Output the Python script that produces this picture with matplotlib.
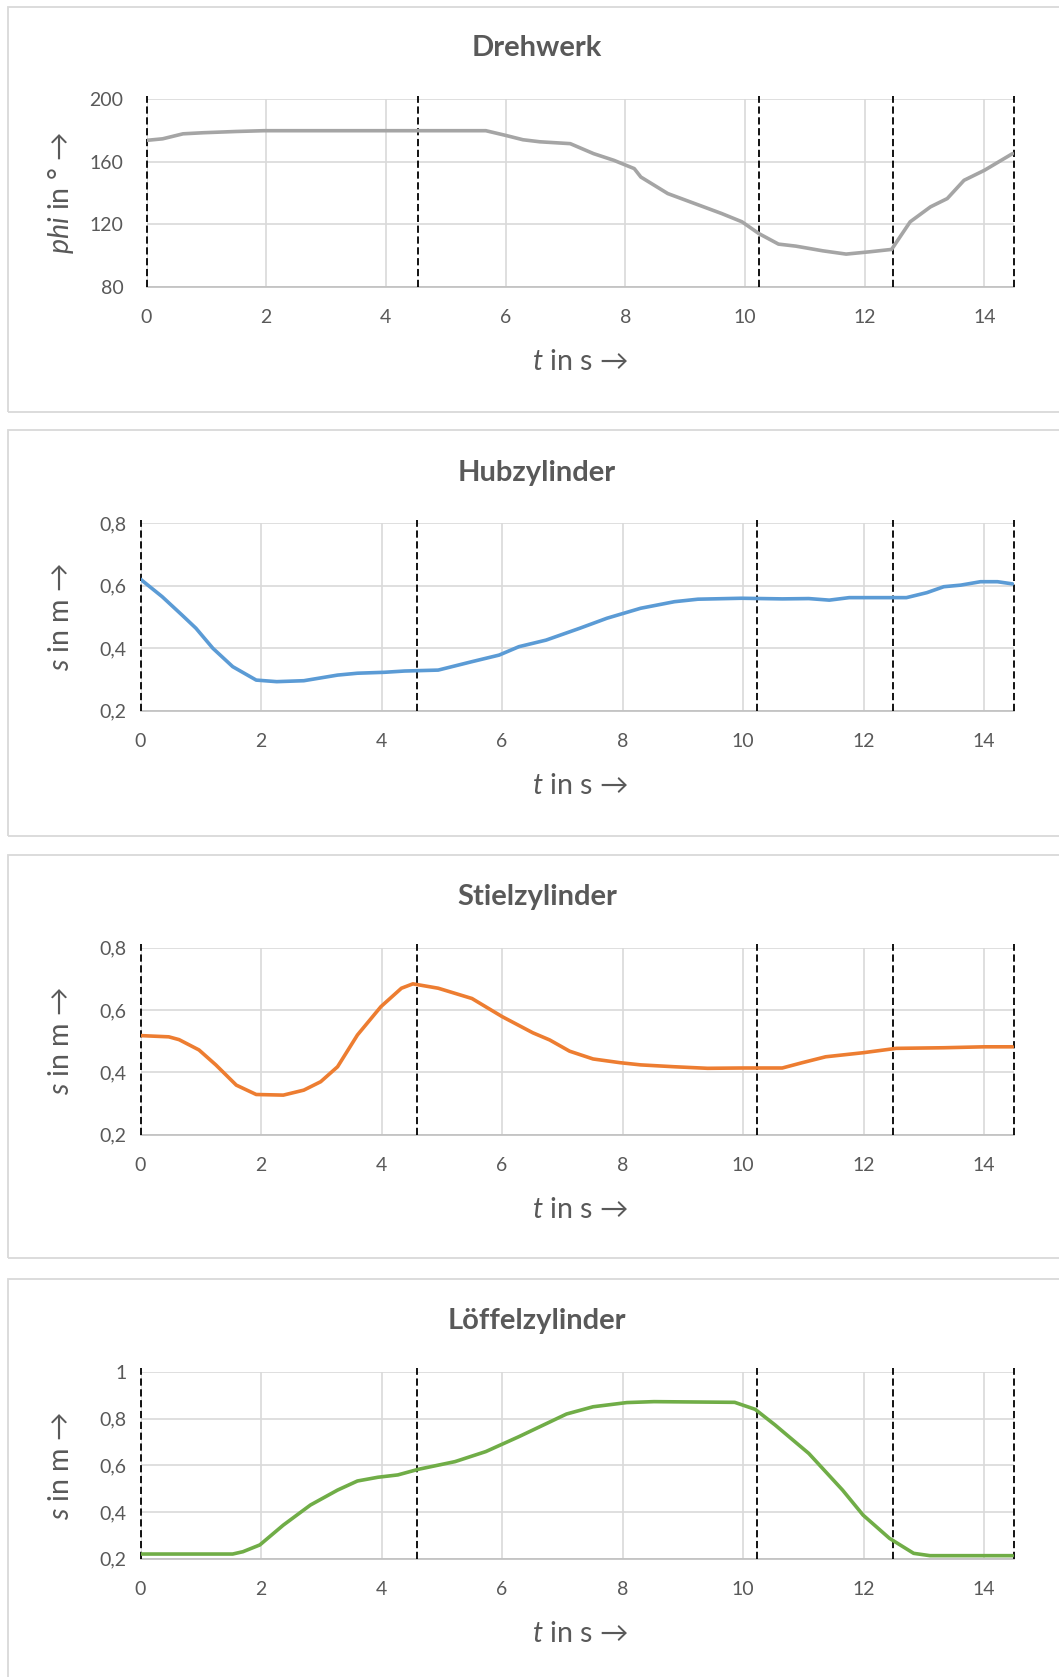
import matplotlib
matplotlib.use("Agg")
import matplotlib.pyplot as plt
from matplotlib.patches import Rectangle

plt.rcParams['font.family'] = ['Lato', 'DejaVu Sans']
plt.rcParams['mathtext.fontset'] = 'custom'
plt.rcParams['mathtext.rm'] = 'Lato'
plt.rcParams['mathtext.it'] = 'Lato:italic'
plt.rcParams['mathtext.fallback'] = 'stixsans'

# --- data ---
t_dreh = [0, 0.27, 0.61, 0.95, 1.5, 1.96, 3.0, 4.0, 5.0, 5.67, 6.0, 6.29, 6.57, 7.08,
          7.47, 7.81, 8.15, 8.26, 8.71, 9.16, 9.61, 9.95, 10.23, 10.56, 10.85, 11.3,
          11.69, 12.09, 12.45, 12.76, 13.1, 13.38, 13.66, 14.0, 14.47]
phi_dreh = [173.8, 174.8, 178, 178.7, 179.5, 180, 180, 180, 180, 180, 177, 174.2, 172.9,
            171.7, 165.3, 161, 155.7, 150.3, 139.7, 133.3, 126.9, 121.6, 114.1, 107.3,
            106, 103, 100.9, 102.4, 103.9, 121.6, 131.2, 136.5, 148.2, 154.6, 165.3]

t_hub = [0, 0.36, 0.69, 0.92, 1.2, 1.53, 1.92, 2.26, 2.71, 3.27, 3.6, 4.05, 4.38, 4.94,
         5.5, 5.95, 6.28, 6.73, 7.29, 7.74, 8.3, 8.86, 9.25, 9.97, 10.65, 11.09, 11.43,
         11.76, 12.71, 13.05, 13.33, 13.61, 13.94, 14.22, 14.47]
s_hub = [0.621, 0.565, 0.506, 0.464, 0.400, 0.341, 0.298, 0.293, 0.296, 0.314, 0.320,
         0.323, 0.327, 0.330, 0.357, 0.378, 0.405, 0.426, 0.464, 0.496, 0.528, 0.549,
         0.557, 0.560, 0.558, 0.559, 0.554, 0.562, 0.562, 0.578, 0.597, 0.602, 0.613,
         0.613, 0.606]

t_stiel = [0, 0.47, 0.64, 0.97, 1.25, 1.59, 1.92, 2.37, 2.71, 2.99, 3.27, 3.6, 3.99,
           4.33, 4.52, 4.94, 5.5, 6.0, 6.51, 6.79, 7.12, 7.51, 7.96, 8.3, 8.86, 9.41,
           9.97, 10.65, 10.98, 11.37, 11.99, 12.54, 13.33, 14.0, 14.47]
s_stiel = [0.518, 0.514, 0.505, 0.472, 0.424, 0.359, 0.329, 0.327, 0.343, 0.370, 0.418,
           0.520, 0.611, 0.670, 0.684, 0.670, 0.637, 0.579, 0.527, 0.504, 0.468, 0.443,
           0.431, 0.424, 0.418, 0.413, 0.414, 0.414, 0.431, 0.450, 0.463, 0.477, 0.479,
           0.482, 0.482]

t_loeffel = [0, 1.53, 1.7, 1.98, 2.37, 2.82, 3.27, 3.6, 3.94, 4.27, 4.61, 5.22, 5.73,
             6.28, 7.07, 7.51, 8.07, 8.52, 9.86, 10.2, 10.53, 11.09, 11.65, 11.99, 12.43,
             12.83, 13.1, 14.47]
s_loeffel = [0.22, 0.22, 0.23, 0.259, 0.344, 0.43, 0.494, 0.533, 0.549, 0.559, 0.583,
             0.616, 0.659, 0.723, 0.82, 0.851, 0.869, 0.873, 0.87, 0.84, 0.773, 0.651,
             0.494, 0.387, 0.287, 0.223, 0.213, 0.213]

# phase boundaries (dashed lines), as placed in each chart
marks_dreh = [0, 4.54, 10.23, 12.47, 14.5]
marks_zyl = [0, 4.58, 10.23, 12.49, 14.5]

x_ticks = [0, 2, 4, 6, 8, 10, 12, 14]
x_ticklabels = ["0", "2", "4", "6", "8", "10", "12", "14"]
phi_ticks = [80, 120, 160, 200]
phi_ticklabels = ["80", "120", "160", "200"]
s_ticks = [0.2, 0.4, 0.6, 0.8]
s_ticklabels = ["0,2", "0,4", "0,6", "0,8"]
s4_ticks = [0.2, 0.4, 0.6, 0.8, 1.0]
s4_ticklabels = ["0,2", "0,4", "0,6", "0,8", "1"]

titles = ["Drehwerk", "Hubzylinder", "Stielzylinder", "Löffelzylinder"]

# --- layout (pixels) ---
W, H = 1059, 1677
TXT = '#595959'
fig = plt.figure(figsize=(W / 100, H / 100), dpi=100)

panels = [
    # box top/bottom, axes left/top/right/bottom, title y, ytick pad
    dict(box=(7, 412), ax=(146.5, 99.5, 1014.3, 286.7), ty=48, pad=16.5,
         t=t_dreh, y=phi_dreh, color='#a5a5a5', yt=phi_ticks, ytl=phi_ticklabels,
         ylim=(80, 200), ylabel=r"$phi$ in ° →", marks=marks_dreh),
    dict(box=(430, 836), ax=(140.5, 523.3, 1014.3, 710.7), ty=473, pad=10,
         t=t_hub, y=s_hub, color='#5b9bd5', yt=s_ticks, ytl=s_ticklabels,
         ylim=(0.2, 0.8), ylabel=r"$s$ in m →", marks=marks_zyl),
    dict(box=(855, 1258), ax=(140.5, 947.7, 1014.3, 1134.7), ty=897, pad=10,
         t=t_stiel, y=s_stiel, color='#ed7d31', yt=s_ticks, ytl=s_ticklabels,
         ylim=(0.2, 0.8), ylabel=r"$s$ in m →", marks=marks_zyl),
    dict(box=(1279, 1700), ax=(140.5, 1372, 1014.3, 1558.7), ty=1321, pad=10,
         t=t_loeffel, y=s_loeffel, color='#70ad47', yt=s4_ticks, ytl=s4_ticklabels,
         ylim=(0.2, 1.0), ylabel=r"$s$ in m →", marks=marks_zyl),
]

for p, title in zip(panels, titles):
    b0, b1 = p['box']
    fig.patches.append(Rectangle((8 / W, 1 - b1 / H), (1070 - 8) / W, (b1 - b0) / H,
                                 transform=fig.transFigure, fill=False,
                                 ec='#d9d9d9', lw=1.3))
    l, t, r, bt = p['ax']
    ax = fig.add_axes([l / W, 1 - bt / H, (r - l) / W, (bt - t) / H])
    ax.plot(p['t'], p['y'], color=p['color'], lw=2.6, solid_capstyle='round',
            solid_joinstyle='round', zorder=4)
    for xm in p['marks']:
        ax.axvline(xm, ymin=0, ymax=1.02, color='black', lw=1.3, ls=(0, (4, 2)),
                   clip_on=False, zorder=3)
    ax.set_xlim(0, 14.5)
    ax.set_ylim(*p['ylim'])
    ax.set_xticks(x_ticks)
    ax.set_xticklabels(x_ticklabels)
    ax.set_yticks(p['yt'])
    ax.set_yticklabels(p['ytl'])
    ax.grid(True, color='#d9d9d9', lw=1.2, zorder=0)
    ax.set_axisbelow(True)
    for side in ['left', 'right', 'top']:
        ax.spines[side].set_visible(False)
    ax.spines['bottom'].set_color('#bfbfbf')
    ax.spines['bottom'].set_linewidth(1.2)
    ax.tick_params(axis='x', length=0, pad=16, labelsize=14, labelcolor=TXT)
    ax.tick_params(axis='y', length=0, pad=p['pad'], labelsize=14, labelcolor=TXT)

    ax.set_xlabel(r"$t$ in s →", fontsize=20.5, color=TXT)
    ax.xaxis.label.set_va('center')
    ax.xaxis.set_label_coords(580 / W, 1 - (bt + 75) / H, transform=fig.transFigure)
    ax.set_ylabel(p['ylabel'], fontsize=20.5, color=TXT)
    ax.yaxis.label.set_va('center')
    ax.yaxis.set_label_coords(61 / W, 1 - (t + bt) / 2 / H, transform=fig.transFigure)

    fig.text(537 / W, 1 - p['ty'] / H, title, ha='center', va='center',
             fontsize=21, fontweight='bold', color=TXT)

fig.savefig("out.png", dpi=100)
